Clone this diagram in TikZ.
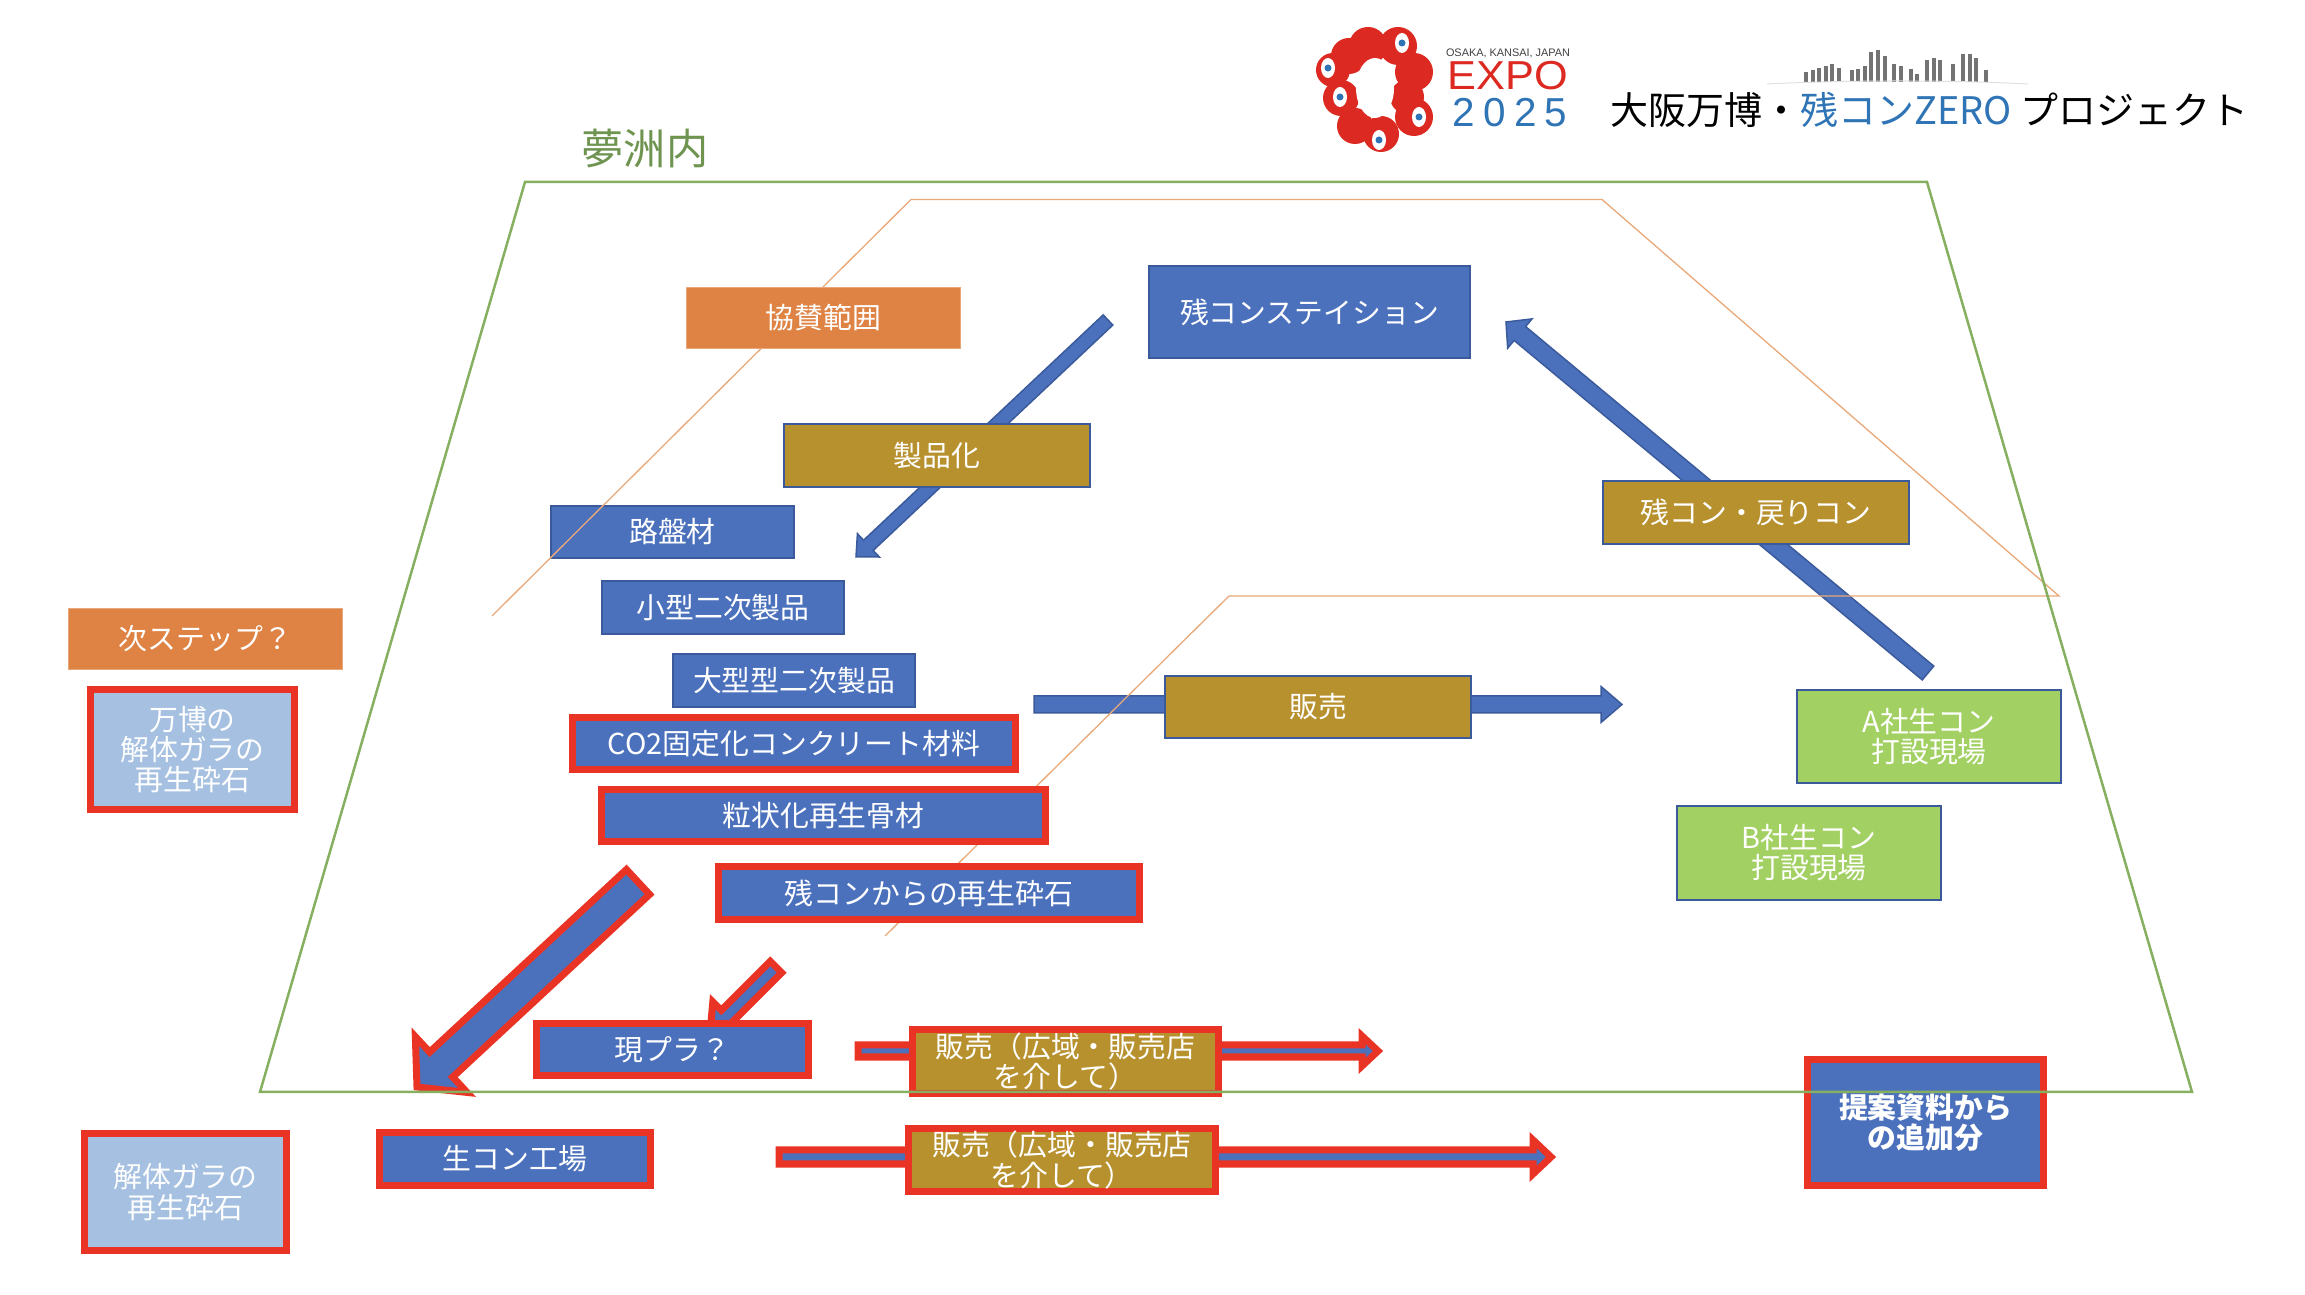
\documentclass[tikz,border=0pt]{standalone}
\usepackage{fontspec}
\setmainfont{Noto Sans CJK JP}
\newfontfamily\logofont{Liberation Sans}
\usetikzlibrary{calc}

\definecolor{boxblue}{HTML}{4C71BC}
\definecolor{edgeblue}{HTML}{3A5A9C}
\definecolor{boxgold}{HTML}{B8912F}
\definecolor{boxorange}{HTML}{DF8344}
\definecolor{boxgreen}{HTML}{A2D063}
\definecolor{boxpale}{HTML}{A5C0E0}
\definecolor{markred}{HTML}{E93425}
\definecolor{sitegreen}{HTML}{86B060}
\definecolor{sitetext}{HTML}{6F9450}
\definecolor{rangeline}{HTML}{E9A878}
\definecolor{logored}{HTML}{DC2A22}
\definecolor{logoblue}{HTML}{2F74B5}

\tikzset{
    label font/.style={font=\fontsize{8.2}{8.6}\selectfont, align=center, text=white, inner sep=0pt},
    bluebox/.style={label font, fill=boxblue, draw=edgeblue, line width=0.02cm},
    goldbox/.style={label font, fill=boxgold, draw=edgeblue, line width=0.02cm},
    greenbox/.style={label font, fill=boxgreen, draw=edgeblue, line width=0.02cm},
    orangebox/.style={label font, fill=boxorange, draw=boxorange!70!white, line width=0.01cm},
    marked/.style={draw=markred, line width=0.07cm, miter limit=10},
    bluearrow/.style={fill=boxblue, draw=edgeblue, line width=0.015cm},
    redarrow/.style={fill=boxblue, draw=markred, line width=0.07cm, miter limit=10},
}

% from, to, half shaft, half head, head length, style
\newcommand{\blockarrow}[6]{
    \coordinate (neck) at ($(#2)!#5!(#1)$);
    \draw[#6] ($(#1)!#3!90:(#2)$) -- ($(neck)!#3!90:(#2)$) -- ($(neck)!#4!90:(#2)$) -- (#2)
        -- ($(neck)!#4!-90:(#2)$) -- ($(neck)!#3!-90:(#2)$) -- ($(#1)!#3!-90:(#2)$) -- cycle;
}

\begin{document}
\begin{tikzpicture}[x=0.01cm, y=-0.01cm]
    \useasboundingbox (0,0) rectangle (2305,1295);

    % Logo
    \foreach \x/\y/\r in {1368/46/19, 1398/46/19, 1414/72/19, 1407/97/17, 1414/117/19, 1381/134/18, 1355/126/18, 1341/98/18, 1333/70/17, 1349/56/18} {
        \fill[logored] (\x,\y) circle (\r);
    }
    \fill[white] (1375,88) ellipse (19 and 30);
    \foreach \x/\y in {1402/43, 1328/68, 1340/97, 1419/117, 1379/140} {
        \fill[white] (\x,\y) ellipse (7 and 10);
        \fill[logoblue] (\x,\y) circle (3.5);
    }
    \node[font=\logofont\fontsize{3.1}{3.1}\selectfont, text=black!75, inner sep=0pt] (logoplace) at (1508,53) {OSAKA, KANSAI, JAPAN};
    \node[font=\logofont\fontsize{11.5}{11.5}\selectfont, text=logored, inner sep=0pt, xscale=1.07] (logoexpo) at (1508,76) {EXPO};
    \node[font=\logofont\fontsize{11.5}{11.5}\selectfont\addfontfeature{LetterSpace=20}, text=logoblue, inner sep=0pt] (logoyear) at (1510,113) {2025};

    % Skyline
    \foreach \x/\t in {1806/72, 1813/70, 1819/68, 1826/66, 1832/64, 1839/68, 1852/70, 1858/69, 1865/66, 1871/52, 1878/50, 1885/56, 1894/64, 1901/66, 1911/69, 1917/74, 1927/60, 1934/58, 1940/60, 1953/64, 1963/54, 1970/54, 1976/58, 1986/70} {
        \fill[black!55] (\x-2,\t) rectangle (\x+2,82);
    }
    \draw[black!12, line width=0.01cm] (1767,84) .. controls (1850,80) and (1950,80) .. (2028,84);

    % Title
    \node[anchor=west, font=\fontsize{10.8}{10.8}\selectfont, inner sep=0pt] (title) at (1610,110) {大阪万博・\textcolor{logoblue}{残コンZERO} プロジェクト};
    \node[font=\fontsize{12}{12}\selectfont, text=sitetext, inner sep=0pt] (site) at (645,149) {夢洲内};

    % Arrow ends
    \coordinate (stationout) at (1108,320);
    \coordinate (productin) at (856,557);
    \coordinate (returnout) at (1928,673);
    \coordinate (returnin) at (1506,322);
    \coordinate (saleout) at (1034,704.5);
    \coordinate (salein) at (1622,704.5);
    \coordinate (bigout) at (638,882);
    \coordinate (bigin) at (417,1087);
    \coordinate (smallout) at (776,967);
    \coordinate (smallin) at (710,1033);
    \coordinate (wideoneout) at (858,1051);
    \coordinate (wideonein) at (1378,1051);
    \coordinate (widetwoout) at (779,1157);
    \coordinate (widetwoin) at (1551,1157);

    % Arrows
    \blockarrow{stationout}{productin}{0.07cm}{0.16cm}{0.17cm}{bluearrow}
    \blockarrow{returnout}{returnin}{0.09cm}{0.19cm}{0.18cm}{bluearrow}
    \blockarrow{saleout}{salein}{0.085cm}{0.18cm}{0.21cm}{bluearrow}
    \blockarrow{bigout}{bigin}{0.17cm}{0.38cm}{0.33cm}{redarrow}
    \blockarrow{smallout}{smallin}{0.08cm}{0.2cm}{0.24cm}{redarrow}
    \blockarrow{wideoneout}{wideonein}{0.06cm}{0.15cm}{0.16cm}{redarrow}
    \blockarrow{widetwoout}{widetwoin}{0.07cm}{0.17cm}{0.18cm}{redarrow}

    % Sponsored range
    \node[bluebox, minimum width=2.43cm, minimum height=0.52cm] (roadbed) at (672.5,532) {路盤材};
    \draw[rangeline, line width=0.013cm] (492,616) -- (911,199.5) -- (1602,199.5) -- (2059,596) -- (1229,596) -- (885,936);

    % Products
    \node[orangebox, minimum width=2.73cm, minimum height=0.6cm] (sponsor) at (823.5,318) {協賛範囲};
    \node[bluebox, minimum width=3.21cm, minimum height=0.92cm] (station) at (1309.5,312) {残コンステイション};
    \node[goldbox, minimum width=3.06cm, minimum height=0.63cm] (product) at (937,455.5) {製品化};
    \node[goldbox, minimum width=3.06cm, minimum height=0.63cm] (returned) at (1756,512.5) {残コン・戻りコン};
    \node[bluebox, minimum width=2.42cm, minimum height=0.53cm] (smallproduct) at (723,607.5) {小型二次製品};
    \node[bluebox, minimum width=2.42cm, minimum height=0.53cm] (largeproduct) at (794,680.5) {大型型二次製品};
    \node[goldbox, minimum width=3.05cm, minimum height=0.62cm] (sale) at (1318,707) {販売};
    \node[bluebox, marked, minimum width=4.43cm, minimum height=0.52cm] (carbon) at (794,743.5) {CO2固定化コンクリート材料};
    \node[bluebox, marked, minimum width=4.44cm, minimum height=0.52cm] (grain) at (823.5,815.5) {粒状化再生骨材};
    \node[bluebox, marked, minimum width=4.21cm, minimum height=0.53cm] (recycled) at (929,893) {残コンからの再生砕石};

    % Sites
    \node[greenbox, minimum width=2.64cm, minimum height=0.93cm] (sitea) at (1929,736.5) {A社生コン\\打設現場};
    \node[greenbox, minimum width=2.64cm, minimum height=0.94cm] (siteb) at (1809,853) {B社生コン\\打設現場};

    % Left column
    \node[orangebox, minimum width=2.73cm, minimum height=0.6cm] (nextstep) at (205.5,639) {次ステップ？};
    \node[label font, fill=boxpale, marked, minimum width=2.04cm, minimum height=1.2cm] (expodebris) at (192.5,749.5) {万博の\\解体ガラの\\再生砕石};
    \node[label font, fill=boxpale, marked, minimum width=2.02cm, minimum height=1.17cm] (debris) at (185.5,1192) {解体ガラの\\再生砕石};

    % Bottom row
    \node[bluebox, marked, minimum width=2.72cm, minimum height=0.52cm] (genpla) at (672.5,1049.5) {現プラ？};
    \node[goldbox, marked, minimum width=3.06cm, minimum height=0.64cm] (wideone) at (1065.5,1061.5) {販売（広域・販売店\\を介して）};
    \node[bluebox, marked, minimum width=2.71cm, minimum height=0.53cm] (plant) at (515,1159) {生コン工場};
    \node[goldbox, marked, minimum width=3.07cm, minimum height=0.63cm] (widetwo) at (1062,1160) {販売（広域・販売店\\を介して）};
    \node[bluebox, marked, minimum width=2.36cm, minimum height=1.26cm, font=\fontsize{8.2}{8.6}\selectfont\bfseries] (proposal) at (1925.5,1122.5) {提案資料から\\の追加分};

    % Yumeshima outline
    \draw[sitegreen, line width=0.025cm] (525,182) -- (1927,182) -- (2192,1092) -- (260,1092) -- cycle;
\end{tikzpicture}
\end{document}
